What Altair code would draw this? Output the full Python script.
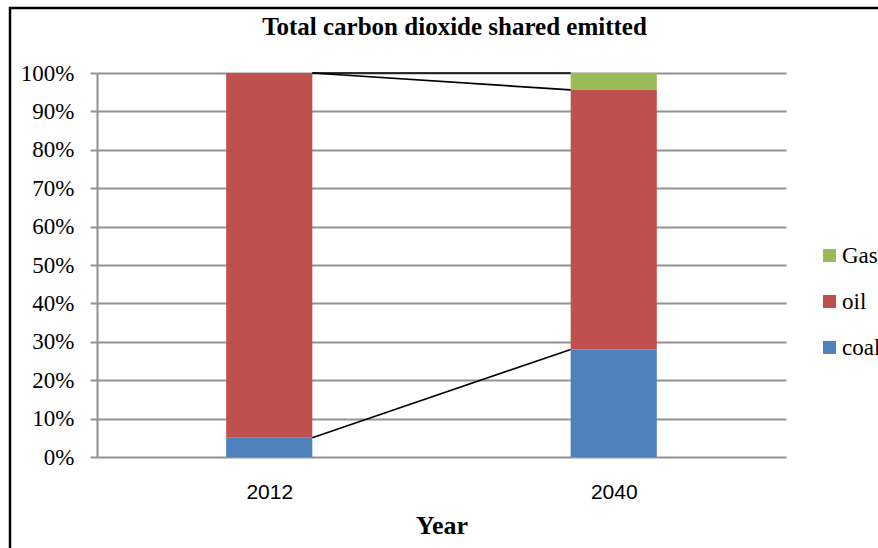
import json
import altair as alt
import pandas as pd

# Shares of total carbon dioxide emitted, by year and fuel (percent)
years = ["2012", "2040"]
coal = [5.0, 28.0]
oil = [95.0, 67.6]
gas = [0.0, 4.4]

series_names = ["coal", "oil", "Gas"]
series_values = [coal, oil, gas]
colors = {"Gas": "#9BBB59", "oil": "#C0504D", "coal": "#4F81BD"}

BAR_HALF = 0.125  # half bar width in category units
GRID = "#929292"
SERIF = "Liberation Serif"
SANS = "Liberation Sans"

# stacked segments
rows = []
for i, year in enumerate(years):
    base = 0.0
    for name, vals in zip(series_names, series_values):
        top = base + vals[i]
        rows.append({"year": year, "series": name, "xc": i + 0.5,
                     "x0": i + 0.5 - BAR_HALF, "x1": i + 0.5 + BAR_HALF,
                     "y0": base / 100.0, "y1": top / 100.0})
        base = top
bars_df = pd.DataFrame(rows)

# series lines joining each segment top between neighbouring bars
line_rows = []
for j, name in enumerate(series_names):
    for i in range(len(years) - 1):
        a = bars_df[(bars_df.year == years[i]) & (bars_df.series == name)].iloc[0]
        b = bars_df[(bars_df.year == years[i + 1]) & (bars_df.series == name)].iloc[0]
        line_rows.append({"series": name, "seg": i, "x": a.x1, "y": a.y1})
        line_rows.append({"series": name, "seg": i, "x": b.x0, "y": b.y1})
lines_df = pd.DataFrame(line_rows)

W, H = 689, 384
PAD = {"left": 97, "top": 73, "right": 92, "bottom": 91}

x_scale = alt.Scale(domain=[0, len(years)], nice=False, zero=False)
y_scale = alt.Scale(domain=[0, 1], nice=False)

label_expr = json.dumps(years) + "[floor(datum.value)]"

x_axis = alt.Axis(values=[i + 0.5 for i in range(len(years))], labelExpr=label_expr,
                  ticks=False, domain=False, grid=False,
                  labelFont=SANS, labelFontSize=21, labelColor="black",
                  labelPadding=24, title="Year", titleFont=SERIF, titleFontSize=26,
                  titleFontWeight="bold", titleColor="black", titlePadding=10)
y_axis = alt.Axis(values=[k / 10 for k in range(11)], format=".0%",
                  labelOverlap=False,
                  labelFont=SERIF, labelFontSize=23, labelColor="black",
                  tickSize=7, tickColor=GRID, tickWidth=2,
                  domainColor=GRID, domainWidth=2,
                  gridColor=GRID, gridWidth=2,
                  labelPadding=16, title=None)

bars = alt.Chart(bars_df).mark_rect().encode(
    x=alt.X("x0:Q", scale=x_scale, axis=x_axis),
    x2="x1:Q",
    y=alt.Y("y0:Q", scale=y_scale, axis=y_axis),
    y2="y1:Q",
    color=alt.Color("series:N",
                    scale=alt.Scale(domain=["Gas", "oil", "coal"],
                                    range=[colors["Gas"], colors["oil"], colors["coal"]]),
                    legend=alt.Legend(orient="none", legendX=721, legendY=171,
                                      title=None, symbolType="square", symbolSize=169,
                                      symbolStrokeWidth=0, labelFont=SERIF,
                                      labelFontSize=23, labelColor="black",
                                      rowPadding=22, labelOffset=1, padding=0)),
)

series_lines = alt.Chart(lines_df).mark_line(color="black", strokeWidth=1.7).encode(
    x=alt.X("x:Q", scale=x_scale, axis=x_axis),
    y=alt.Y("y:Q", scale=y_scale, axis=y_axis),
    detail="series:N",
)

frame = alt.Chart(pd.DataFrame({"k": [0]})).mark_rect(
    fillOpacity=0, stroke="black", strokeWidth=2.5
).encode(
    x=alt.value(10 - PAD["left"]),
    y=alt.value(8 - PAD["top"]),
    x2=alt.value(W + PAD["right"] + 20),
    y2=alt.value(H + PAD["bottom"] + 20),
)

chart = alt.layer(bars, series_lines, frame).properties(
    width=W, height=H,
    autosize=alt.AutoSizeParams(type="none"),
    padding=PAD,
    background="white",
    title=alt.TitleParams("Total carbon dioxide shared emitted", font=SERIF,
                          fontSize=25, fontWeight="bold", color="black",
                          anchor="middle", dx=13, offset=-33),
).configure_view(stroke=None)

chart.save("out.html", embed_options={"renderer": "svg", "actions": False})
